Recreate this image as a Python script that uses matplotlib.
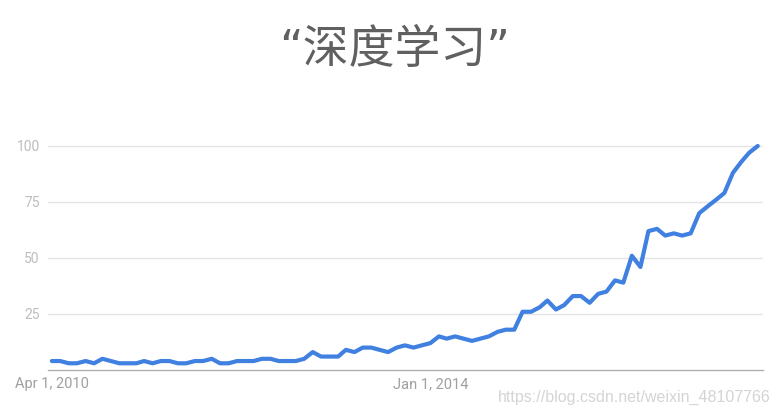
import matplotlib
matplotlib.use("Agg")
import matplotlib.pyplot as plt
import pandas as pd

# ── data: Google Trends interest for "深度学习", monthly from Apr 2010 ─────────
start_month = "2010-04-01"
interest = [
    4, 4, 3, 3, 4, 3, 5, 4, 3, 3,
    3, 4, 3, 4, 4, 3, 3, 4, 4, 5,
    3, 3, 4, 4, 4, 5, 5, 4, 4, 4,
    5, 8, 6, 6, 6, 9, 8, 10, 10, 9,
    8, 10, 11, 10, 11, 12, 15, 14, 15, 14,
    13, 14, 15, 17, 18, 18, 26, 26, 28, 31,
    27, 29, 33, 33, 30, 34, 35, 40, 39, 51,
    46, 62, 63, 60, 61, 60, 61, 70, 73, 76,
    79, 88, 93, 97, 100,
]
months = pd.date_range(start_month, periods=len(interest), freq="MS")
tick_dates = pd.to_datetime(["2010-04-01", "2014-01-01"])
tick_labels = ["Apr 1, 2010", "Jan 1, 2014"]
y_ticks = [25, 50, 75, 100]

title = "“深度学习”"
watermark = "https://blog.csdn.net/weixin_48107766"

# ── style ─────────────────────────────────────────────────────────────────────
BLUE = "#4080e0"
GRID = "#e3e3e3"
BASE = "#b0b0b0"
TICK = "#bdbdbd"
XTICK = "#a0a0a0"

fig = plt.figure(figsize=(7.8, 4.16), dpi=100)
fig.patch.set_facecolor("white")
ax = fig.add_axes([48 / 780, 46 / 416, 715 / 780, (370 - 141.5) / 416])

ax.plot(months, interest, color=BLUE, lw=3.0, solid_joinstyle="round",
        solid_capstyle="round", clip_on=False, zorder=3)

ax.set_xlim(months[0] - pd.Timedelta(days=14), months[-1] + pd.Timedelta(days=19))
ax.set_ylim(0, 102)

ax.set_yticks(y_ticks)
ax.set_yticklabels([str(v) for v in y_ticks], family="Roboto",
                   fontsize=10, color=TICK)
ax.set_xticks(tick_dates)
ax.set_xticklabels(tick_labels, family="Roboto", fontsize=10.5, color=XTICK)
ax.tick_params(axis="both", length=0)
ax.tick_params(axis="y", pad=6)
ax.tick_params(axis="x", pad=5)

ax.grid(axis="y", color=GRID, lw=1.0, zorder=0)
for side in ("top", "right", "left"):
    ax.spines[side].set_visible(False)
ax.spines["bottom"].set_color(BASE)
ax.spines["bottom"].set_linewidth(1.0)

fig.text(0.506, 0.878, title, ha="center", va="center", fontsize=33,
         color="#606060", family=["DejaVu Sans", "Noto Sans CJK SC"])

fig.text(0.988, 0.045, watermark, ha="right", va="center", fontsize=11.5,
         color="#d4d4d4", family="Liberation Sans")

fig.savefig("out.png", dpi=100, facecolor="white")
